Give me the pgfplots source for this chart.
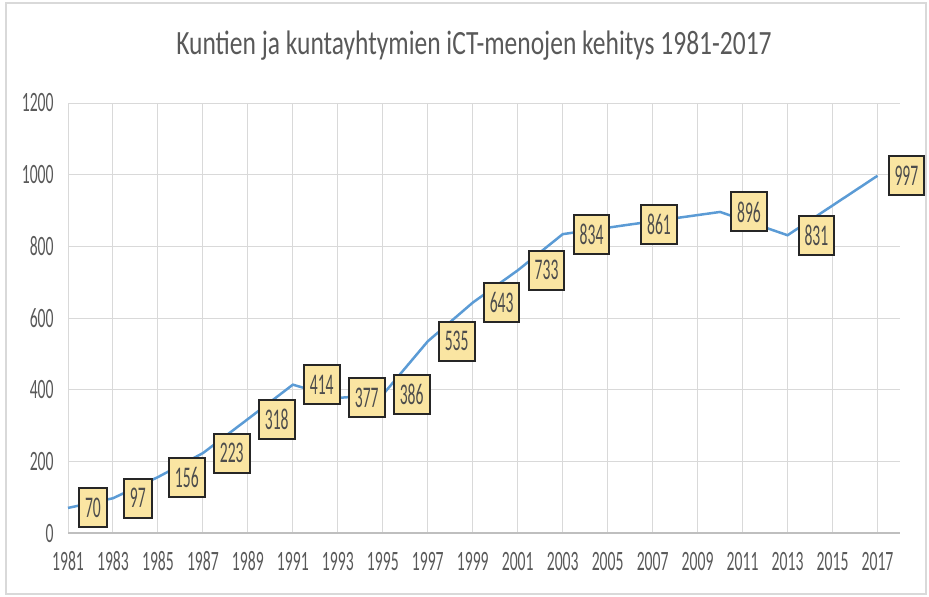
\documentclass[border=0pt]{standalone}
\usepackage{fontspec}
\usepackage{pgfplots}
\pgfplotsset{compat=1.18}
\setmainfont{Carlito}
\newfontfamily\titlefont[FakeStretch=0.75]{Carlito}
\newfontfamily\tickfont[FakeStretch=0.56]{Carlito}
\newfontfamily\labelfont[FakeStretch=0.52]{Carlito}
\definecolor{txtgray}{HTML}{595959}
\definecolor{gridgray}{HTML}{D9D9D9}
\definecolor{axgray}{HTML}{BFBFBF}
\definecolor{linblue}{HTML}{5B9BD5}
\definecolor{boxfill}{HTML}{FAE5A2}
\begin{document}
\begin{tikzpicture}
\path[use as bounding box] (-34pt,-31.5pt) rectangle (430.5pt,266.5pt);
\draw[gridgray, line width=0.75pt] (-31pt,-30.5pt) rectangle (429pt,265pt);
\begin{axis}[
  at={(0pt,0pt)}, anchor=south west,
  scale only axis, width=416pt, height=215pt,
  xmin=1981, xmax=2018, ymin=0, ymax=1200,
  xtick={1981,1983,...,2017},
  ytick={0,200,...,1200},
  /pgf/number format/.cd, 1000 sep={}, assume math mode=true, /pgfplots/.cd,
  axis x line*=bottom, axis y line*=left,
  x axis line style={draw=axgray, line width=0.75pt, -},
  y axis line style={draw=none, -},
  major tick length=0pt,
  tick style={draw=none},
  grid=major,
  major grid style={draw=gridgray, line width=0.5pt},
  xticklabel style={font=\fontsize{14}{16}\tickfont, text=txtgray, anchor=center, inner sep=0pt, yshift=-14pt},
  yticklabel style={font=\fontsize{14}{16}\tickfont, text=txtgray, anchor=east, inner sep=0pt, xshift=-7pt},
  clip=false,
  nodes near coords,
  every node near coord/.style={font=\fontsize{15}{17}\labelfont, text=txtgray!85!black,
    fill=boxfill, draw=black!85, line width=1pt, anchor=west, xshift=5pt,
    minimum height=19.5pt, inner xsep=3pt, inner ysep=0pt},
]
\addplot[color=linblue, line width=1.25pt, mark=none] coordinates {
(1981,70) (1983,97) (1985,156) (1987,223) (1989,318) (1991,414)
(1993,377) (1995,386) (1997,535) (1999,643) (2001,733) (2003,834)
(2006,861) (2010,896) (2013,831) (2017,997)
};
\end{axis}
\node[font=\fontsize{17}{20}\titlefont, text=txtgray] at (203pt,243.5pt) {Kuntien ja kuntayhtymien iCT-menojen kehitys 1981-2017};
\end{tikzpicture}
\end{document}
